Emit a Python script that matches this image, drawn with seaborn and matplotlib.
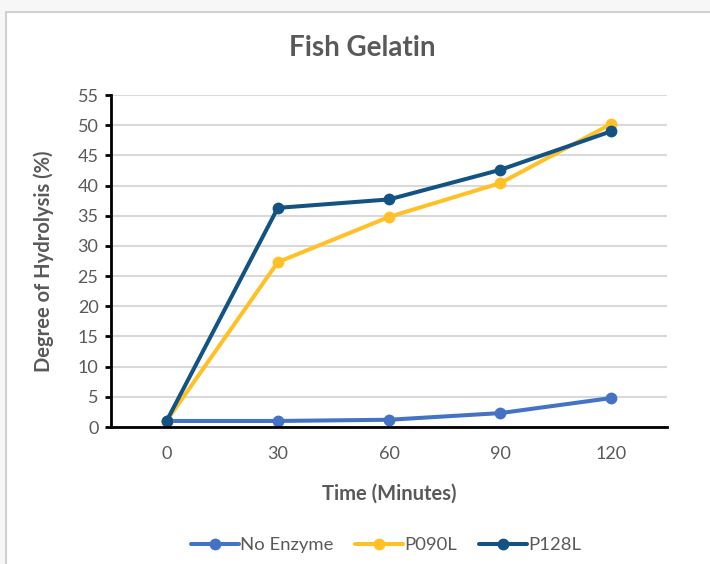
import matplotlib
matplotlib.use("Agg")
import matplotlib.pyplot as plt
from matplotlib.patches import Rectangle
from matplotlib.ticker import FixedLocator
import seaborn as sns
import pandas as pd

times = [0, 30, 60, 90, 120]
no_enzyme = [1.0, 1.0, 1.2, 2.3, 4.8]
p090l = [1.0, 27.3, 34.8, 40.4, 50.2]
p128l = [1.0, 36.3, 37.7, 42.6, 49.0]
series_names = ["No Enzyme", "P090L", "P128L"]
y_ticks = list(range(0, 60, 5))

df = pd.DataFrame({
    "Time": times * 3,
    "DH": no_enzyme + p090l + p128l,
    "Series": [s for s in series_names for _ in times],
})

sns.set_theme(style="white")
plt.rcParams["font.family"] = ["Lato", "DejaVu Sans"]

TXT = "#595959"
palette = {"No Enzyme": "#4472C4", "P090L": "#FFC125", "P128L": "#125384"}

fig = plt.figure(figsize=(7.1, 5.64), dpi=100)
fig.patch.set_facecolor("#f7f7f7")
bg = Rectangle((6 / 710, -0.1), 1.1, (564 - 12) / 564 + 0.1,
               transform=fig.transFigure, facecolor="white",
               edgecolor="#d0d0d0", linewidth=1.5, zorder=-10)
fig.add_artist(bg)

ax = fig.add_axes([111 / 710, (564 - 427) / 564, (667 - 111) / 710, (427 - 95) / 564])
ax.set_facecolor("none")
ax.set_zorder(1)

sns.lineplot(data=df, x="Time", y="DH", hue="Series", palette=palette,
             hue_order=series_names, marker="o", markersize=8.5,
             markeredgewidth=0, linewidth=2.9, ax=ax, legend=True)

ax.set_xlim(-15, 135)
ax.set_ylim(0, 55)
ax.set_xticks(times)
ax.set_xticklabels([str(t) for t in times])
ax.xaxis.set_minor_locator(FixedLocator([-15, 15, 45, 75, 105, 135]))
ax.set_yticks(y_ticks)
ax.set_yticklabels([str(v) for v in y_ticks])

ax.yaxis.grid(True, color="#d9d9d9", linewidth=1.5)
ax.xaxis.grid(False)
ax.set_axisbelow(True)

for side in ["top", "right"]:
    ax.spines[side].set_visible(False)
for side in ["left", "bottom"]:
    ax.spines[side].set_color("black")
    ax.spines[side].set_linewidth(2.0)

ax.tick_params(axis="x", which="major", length=0, pad=14, labelsize=13, labelcolor=TXT)
ax.tick_params(axis="x", which="minor", length=5, width=2, color="black", direction="out")
ax.tick_params(axis="y", which="major", length=4, width=2, color="black", direction="out",
               pad=5, labelsize=13, labelcolor=TXT, left=True)

ax.set_xlabel("Time (Minutes)", fontsize=14.5, fontweight="bold", color=TXT, labelpad=15)
ax.set_ylabel("Degree of Hydrolysis (%)", fontsize=14.5, fontweight="bold", color=TXT, labelpad=17)

fig.text(362 / 710, 1 - 48 / 564, "Fish Gelatin", ha="center", va="center",
         fontsize=20, fontweight="bold", color=TXT)

handles, labels = ax.get_legend_handles_labels()
ax.legend_.remove()
fig.legend(handles, labels, loc="center", bbox_to_anchor=(386 / 710, 1 - 545 / 564),
           ncol=3, frameon=False, fontsize=13.3, labelcolor=TXT, handlelength=2.6,
           handletextpad=0.05, columnspacing=1.2)

fig.savefig("out.png", dpi=100, facecolor=fig.get_facecolor())
